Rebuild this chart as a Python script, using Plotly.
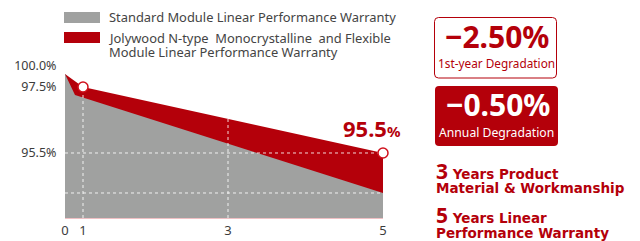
import numpy as np
import plotly.graph_objects as go

# ---------------- data (in display units) ----------------
year_labels = ["0", "1", "3", "5"]
year_pos = [0.0, 0.283, 2.563, 5.0]          # horizontal position of each year on the drawn axis

jolywood_x = [0.0, 0.283, 5.0]
jolywood_y = [97.894, 97.5, 95.5]            # Jolywood N-type warranty line

standard_x = [0.0, 0.157, 5.0]
standard_y = [97.894, 97.258, 94.288]         # standard module warranty line

y_tick_vals = [98.136, 97.5, 95.5]
y_tick_labels = ["100.0%", "97.5%", "95.5%"]

grid_y = [95.5, 94.288]
grid_x_years = [1, 3]

marker_x = [0.283, 5.0]
marker_y = [97.5, 95.5]

legend_labels = ["Standard Module Linear Performance Warranty",
                 "Jolywood N-type\u00a0\u00a0Monocrystalline\u00a0\u00a0and Flexible",
                 "Module Linear Performance Warranty"]

# ---------------- styling ----------------
RED = "#b4000a"
GREY = "#a0a1a0"
TXT = "#3c3c3c"
Y_MIN, Y_MAX = 93.53, 98.318
X_MIN, X_MAX = 0.0, 5.0

W, H = 640, 241
PL, PR, PT, PB = 65, 383, 60, 218


def px_x(px):
    return (px - PL) / (PR - PL)


def px_y(py):
    return (PB - py) / (PB - PT)


fig = go.Figure()

# red (Jolywood) area
fig.add_trace(go.Scatter(x=jolywood_x, y=jolywood_y, fill="tozeroy", mode="lines",
                         line=dict(width=0, color=RED), fillcolor=RED,
                         hoverinfo="skip", showlegend=False))
# grey (standard) area on top
fig.add_trace(go.Scatter(x=standard_x, y=standard_y, fill="tozeroy", mode="lines",
                         line=dict(width=0, color=GREY), fillcolor=GREY,
                         hoverinfo="skip", showlegend=False))

# dashed white grid lines, drawn over the areas
grid_style = dict(color="rgba(255,255,255,0.85)", width=1, dash="3px,3px")
for yr in grid_x_years:
    xp = year_pos[year_labels.index(str(yr))]
    ytop = float(np.interp(xp, jolywood_x, jolywood_y))
    fig.add_trace(go.Scatter(x=[xp, xp], y=[Y_MIN, ytop], mode="lines", line=grid_style,
                             hoverinfo="skip", showlegend=False))
for gy in grid_y:
    fig.add_trace(go.Scatter(x=[X_MIN, X_MAX], y=[gy, gy], mode="lines", line=grid_style,
                             hoverinfo="skip", showlegend=False))

# markers
fig.add_trace(go.Scatter(x=marker_x, y=marker_y, mode="markers",
                         marker=dict(size=10, color="white", line=dict(color="#d0101c", width=1.5)),
                         cliponaxis=False, hoverinfo="skip", showlegend=False))

shapes = []
annotations = []

# legend
legend_boxes = [(12, 23, GREY), (32, 43, RED)]
for (t, b, c) in legend_boxes:
    shapes.append(dict(type="rect", xref="paper", yref="paper",
                       x0=px_x(64), x1=px_x(100), y0=px_y(b), y1=px_y(t),
                       fillcolor=c, line=dict(width=0)))
for txt, cy in zip(legend_labels, [17, 38, 52]):
    annotations.append(dict(text=txt, xref="paper", yref="paper", x=px_x(107), y=px_y(cy),
                            xanchor="left", yanchor="middle", showarrow=False,
                            font=dict(family="Noto Sans", size=12.9, color="#444444")))

# end value label
annotations.append(dict(text="95.5<span style='font-size:15px'>%</span>", xref="paper", yref="paper",
                        x=px_x(372), y=px_y(128), xanchor="center", yanchor="middle",
                        showarrow=False,
                        font=dict(family="Noto Sans", size=22, color=RED, weight="bold")))


def rounded_rect(x0, y0, x1, y1, r):
    X0, X1 = px_x(x0), px_x(x1)
    Y0, Y1 = px_y(y0), px_y(y1)  # Y0 is top (larger), Y1 bottom
    rx = r / (PR - PL)
    ry = r / (PB - PT)
    return (f"M {X0+rx},{Y0} L {X1-rx},{Y0} Q {X1},{Y0} {X1},{Y0-ry} "
            f"L {X1},{Y1+ry} Q {X1},{Y1} {X1-rx},{Y1} L {X0+rx},{Y1} "
            f"Q {X0},{Y1} {X0},{Y1+ry} L {X0},{Y0-ry} Q {X0},{Y0} {X0+rx},{Y0} Z")


shapes.append(dict(type="path", xref="paper", yref="paper", path=rounded_rect(434.5, 17.5, 556.5, 78, 4),
                   fillcolor="white", line=dict(color=RED, width=1)))
shapes.append(dict(type="path", xref="paper", yref="paper", path=rounded_rect(435, 86, 558, 146, 4),
                   fillcolor=RED, line=dict(width=0)))

box_texts = [
    ("\u22122.50%", 497, 37, 30, RED, "bold"),
    ("1st-year Degradation", 496, 63, 11.8, RED, "normal"),
    ("\u22120.50%", 498, 104, 30, "white", "bold"),
    ("Annual Degradation", 496, 132, 12.2, "white", "normal"),
]
for txt, cx, cy, sz, col, wt in box_texts:
    annotations.append(dict(text=txt, xref="paper", yref="paper", x=px_x(cx), y=px_y(cy),
                            xanchor="center", yanchor="middle", showarrow=False,
                            font=dict(family="Noto Sans", size=sz, color=col, weight=wt)))

warranty_lines = [
    ("<span style='font-family:Noto Sans;font-size:21px'>3</span> Years Product", 171),
    ("Material &amp; Workmanship", 188),
    ("<span style='font-family:Noto Sans;font-size:21px'>5</span> Years Linear", 215),
    ("Performance Warranty", 233),
]
for txt, cy in warranty_lines:
    annotations.append(dict(text=txt, xref="paper", yref="paper", x=px_x(434), y=px_y(cy),
                            xanchor="left", yanchor="middle", showarrow=False,
                            font=dict(family="DejaVu Sans", size=13.5, color=RED, weight="bold")))

fig.update_layout(
    width=W, height=H,
    margin=dict(l=PL, r=W - PR, t=PT, b=H - PB, pad=0, autoexpand=False),
    paper_bgcolor="white", plot_bgcolor="white",
    shapes=shapes, annotations=annotations,
    showlegend=False,
    xaxis=dict(range=[X_MIN, X_MAX], tickvals=year_pos, ticktext=year_labels, automargin=False,
               showgrid=False, zeroline=False, showline=True, linecolor="#f0c0c4", linewidth=1,
               ticks="", tickfont=dict(family="Noto Sans", size=13, color=TXT), fixedrange=True),
    yaxis=dict(range=[Y_MIN, Y_MAX], tickvals=y_tick_vals, ticktext=y_tick_labels, automargin=False,
               showgrid=False, zeroline=False, showline=False,
               ticks="outside", ticklen=5, tickcolor="rgba(0,0,0,0)",
               tickfont=dict(family="Noto Sans", size=12.5, color=TXT), fixedrange=True),
)

fig.write_html("out.html", config={"displayModeBar": False},
               post_script="document.body.style.margin='0';document.body.style.overflow='hidden';")
